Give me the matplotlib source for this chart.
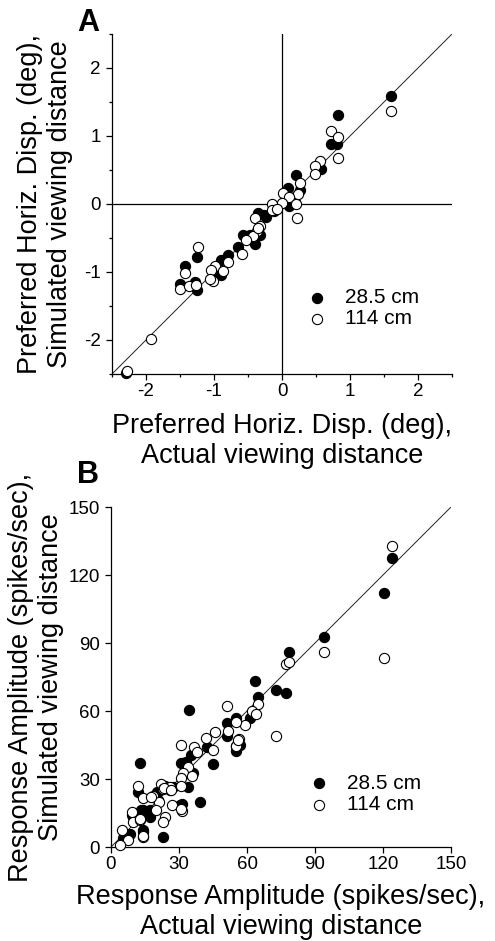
import numpy as np
import matplotlib.pyplot as plt
from matplotlib.ticker import MultipleLocator

plt.rcParams['font.family'] = ['Liberation Sans', 'DejaVu Sans']
plt.rcParams['axes.unicode_minus'] = False

# Panel A: preferred horizontal disparity (deg), actual vs simulated distance
dispA_near_x = [1.60, 0.82, 0.72, 0.81, 0.58, 0.20, 0.09, 0.27, 0.16, 0.11, 0.19, -0.08,
                -0.35, -0.27, -0.23, -0.32, -0.40, -0.58, -0.64, -0.79, -0.90, -1.01,
                -0.89, -1.25, -1.43, -1.50, -1.28, -1.25, -2.29, 0.05, -0.47, -0.12]
dispA_near_y = [1.59, 1.31, 0.88, 0.88, 0.51, 0.43, 0.24, 0.20, 0.07, -0.03, 0.03, -0.04,
                -0.13, -0.16, -0.19, -0.46, -0.59, -0.46, -0.63, -0.75, -0.82, -1.02,
                -1.04, -0.78, -0.91, -1.17, -1.15, -1.27, -2.48, 0.05, -0.45, -0.10]
dispA_far_x = [1.60, 0.72, 0.82, 0.82, 0.56, 0.49, 0.48, 0.26, 0.24, 0.02, 0.11, 0.20,
               0.00, 0.22, -0.14, -0.15, -0.08, -0.40, -0.32, -0.37, -0.42, -0.35, -0.53,
               -0.59, -0.79, -0.99, -0.87, -1.05, -1.01, -1.06, -1.24, -1.42, -1.50,
               -1.37, -1.26, -1.93, -2.28]
dispA_far_y = [1.37, 1.08, 0.98, 0.68, 0.63, 0.56, 0.44, 0.31, 0.15, 0.16, 0.11, 0.00,
               0.01, -0.21, 0.00, -0.09, -0.08, -0.20, -0.33, -0.39, -0.47, -0.36, -0.53,
               -0.73, -0.85, -0.91, -0.98, -0.97, -1.13, -1.11, -0.63, -1.01, -1.25,
               -1.21, -1.19, -1.98, -2.45]

# Panel B: response amplitude (spikes/sec)
ampB_near_x = [123.8, 120.4, 94.0, 78.5, 63.5, 72.7, 77.2, 65.0, 34.6, 61.3, 51.3, 55.0,
               51.0, 42.2, 55.0, 56.9, 35.3, 30.9, 33.1, 12.8, 44.9, 36.3, 34.1, 39.3,
               31.2, 12.1, 26.0, 20.1, 17.2, 14.3, 17.2, 9.1, 14.3, 22.8, 8.4, 27.4,
               20.7, 13.4, 30.3, 9.7, 7.5, 14.1, 5.3, 31.8, 33.2, 24.0, 18.5]
ampB_near_y = [127.6, 111.9, 92.8, 86.2, 73.2, 69.3, 67.8, 66.0, 60.4, 56.8, 54.6, 56.8,
               49.0, 44.3, 42.4, 45.0, 40.6, 36.9, 37.6, 36.9, 36.6, 32.8, 26.6, 19.7,
               19.0, 24.4, 25.1, 24.4, 16.3, 16.3, 13.4, 14.1, 7.5, 4.6, 5.6, 26.6,
               20.7, 16.3, 18.5, 13.4, 5.3, 6.8, 3.8, 36.9, 32.5, 27.0, 22.0]
ampB_far_x = [123.8, 94.0, 120.4, 77.2, 78.5, 65.0, 51.0, 62.3, 63.8, 59.1, 55.1, 46.0,
              51.8, 72.7, 41.9, 56.5, 55.0, 30.9, 36.6, 38.1, 45.1, 33.8, 31.9, 35.6,
              30.9, 30.9, 31.2, 12.1, 22.1, 26.0, 23.1, 18.4, 14.3, 21.3, 26.8, 19.9,
              23.8, 22.8, 9.1, 9.9, 12.8, 14.0, 4.7, 7.6, 4.0, 17.8, 23.4, 26.3, 30.7,
              12.7, 14.1, 55.1, 56.2]
ampB_far_y = [133.0, 86.2, 83.5, 80.7, 81.5, 63.1, 62.2, 60.1, 58.7, 53.8, 55.3, 50.9,
              51.3, 49.0, 48.0, 47.5, 44.6, 45.0, 44.3, 42.1, 42.8, 35.4, 32.5, 31.3,
              30.6, 27.0, 15.9, 26.9, 27.8, 26.6, 25.4, 22.5, 21.5, 20.0, 18.5, 16.3,
              13.4, 11.2, 15.6, 11.2, 11.9, 4.6, 7.5, 3.1, 0.9, 22.2, 25.9, 25.1, 16.6,
              12.2, 4.9, 44.6, 47.2]

legend_labels = ['28.5 cm', '114 cm']

fig = plt.figure(figsize=(4.95, 9.41), dpi=100)
W, H = 495.0, 941.0


def panel(left, top, size):
    return fig.add_axes([left / W, 1 - (top + size) / H, size / W, size / H])


def style(ax):
    for s in ['top', 'right']:
        ax.spines[s].set_visible(False)
    for s in ['left', 'bottom']:
        ax.spines[s].set_linewidth(0.9)
    ax.tick_params(which='major', direction='out', length=4.5, width=0.9,
                   labelsize=13.5, pad=2)
    ax.tick_params(which='minor', direction='out', length=2.5, width=0.9)
    ax.tick_params(axis='y', pad=3.5)


mk = dict(s=54, linewidths=0.8, edgecolors='black', clip_on=False, zorder=3)

# ---- A ----
axA = panel(112, 34, 340)
style(axA)
axA.set_xlim(-2.5, 2.5)
axA.set_ylim(-2.5, 2.5)
axA.xaxis.set_major_locator(MultipleLocator(1))
axA.yaxis.set_major_locator(MultipleLocator(1))
axA.xaxis.set_minor_locator(MultipleLocator(0.5))
axA.yaxis.set_minor_locator(MultipleLocator(0.5))
axA.axhline(0, color='black', lw=0.9, zorder=1)
axA.axvline(0, color='black', lw=0.9, zorder=1)
axA.plot([-2.5, 2.5], [-2.5, 2.5], color='#222222', lw=0.7, zorder=2)
axA.scatter(dispA_near_x, dispA_near_y, facecolors='black', label=legend_labels[0], **mk)
axA.scatter(dispA_far_x, dispA_far_y, facecolors='white', label=legend_labels[1], **mk)
axA.set_xlabel('Preferred Horiz. Disp. (deg),\nActual viewing distance',
               fontsize=19.5, labelpad=9)
axA.set_ylabel('Preferred Horiz. Disp. (deg),\nSimulated viewing distance',
               fontsize=19.5, labelpad=8)
axA.legend(loc='center left', bbox_to_anchor=(0.572, 0.193), frameon=False,
           fontsize=15, handlelength=1, handletextpad=0.85, borderpad=0,
           borderaxespad=0, labelspacing=0.1, scatterpoints=1)
fig.text(77 / W, 1 - 31 / H, 'A', fontsize=22, fontweight='bold', va='baseline')

# ---- B ----
axB = panel(111, 507, 340)
style(axB)
axB.set_xlim(0, 150)
axB.set_ylim(0, 150)
axB.xaxis.set_major_locator(MultipleLocator(30))
axB.yaxis.set_major_locator(MultipleLocator(30))
axB.plot([0, 150], [0, 150], color='#222222', lw=0.7, zorder=2)
axB.scatter(ampB_near_x, ampB_near_y, facecolors='black', label=legend_labels[0], **mk)
axB.scatter(ampB_far_x, ampB_far_y, facecolors='white', label=legend_labels[1], **mk)
axB.set_xlabel('Response Amplitude (spikes/sec),\nActual viewing distance',
               fontsize=19.5, labelpad=8)
axB.set_ylabel('Response Amplitude (spikes/sec),\nSimulated viewing distance',
               fontsize=19.5, labelpad=3)
axB.legend(loc='center left', bbox_to_anchor=(0.581, 0.156), frameon=False,
           fontsize=15, handlelength=1, handletextpad=0.85, borderpad=0,
           borderaxespad=0, labelspacing=0.1, scatterpoints=1)
fig.text(77 / W, 1 - 483 / H, 'B', fontsize=22, fontweight='bold', va='baseline')

fig.savefig('out.png', dpi=100)
